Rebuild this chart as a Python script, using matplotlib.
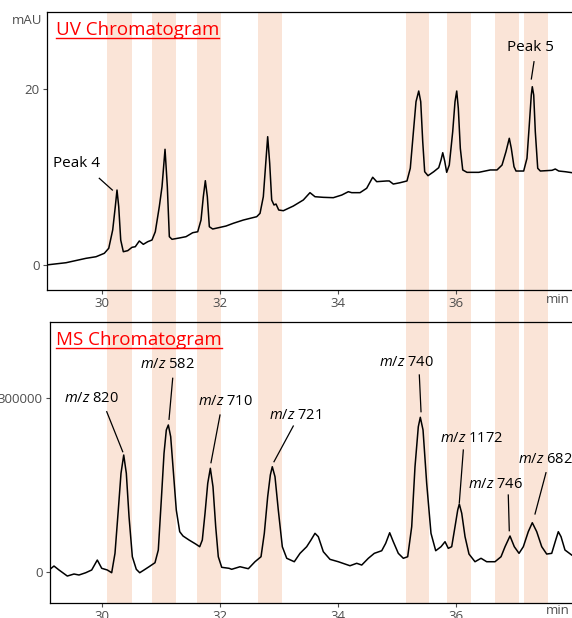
import numpy as np
import matplotlib
matplotlib.use("Agg")
import matplotlib.pyplot as plt
from matplotlib.lines import Line2D

plt.rcParams['font.family'] = ['Open Sans', 'DejaVu Sans']
plt.rcParams['mathtext.fontset'] = 'custom'
plt.rcParams['mathtext.rm'] = 'Open Sans'
plt.rcParams['mathtext.it'] = 'Open Sans:italic'

# UV trace (time in min, absorbance in mAU)
uv_t = [29.051, 29.39, 29.729, 29.898, 30.039, 30.114, 30.181, 30.225, 30.254, 30.283,
        30.317, 30.361, 30.436, 30.508, 30.564, 30.632, 30.70, 30.775, 30.847, 30.903,
        30.971, 31.017, 31.068, 31.107, 31.141, 31.186, 31.31, 31.424, 31.537, 31.622,
        31.678, 31.717, 31.751, 31.785, 31.819, 31.876, 32.102, 32.225, 32.395, 32.622,
        32.678, 32.734, 32.775, 32.808, 32.842, 32.876, 32.915, 32.949, 32.995, 33.073,
        33.242, 33.412, 33.525, 33.61, 33.751, 33.92, 34.063, 34.175, 34.232, 34.373,
        34.486, 34.588, 34.656, 34.825, 34.869, 34.937, 35.051, 35.169, 35.225, 35.283,
        35.322, 35.368, 35.402, 35.436, 35.469, 35.525, 35.622, 35.707, 35.746, 35.775,
        35.808, 35.842, 35.886, 35.944, 35.983, 36.012, 36.039, 36.073, 36.114, 36.186,
        36.385, 36.581, 36.695, 36.78, 36.847, 36.903, 36.937, 36.983, 37.017, 37.147,
        37.203, 37.242, 37.276, 37.293, 37.317, 37.344, 37.385, 37.429, 37.627, 37.683,
        37.741, 37.853, 37.966]
uv_mau = [0.0, 0.26, 0.76, 0.94, 1.33, 1.90, 3.98, 6.63, 8.52, 6.63,
          2.84, 1.51, 1.63, 2.01, 2.08, 2.73, 2.35, 2.65, 2.84, 3.78,
          6.63, 8.90, 13.15, 8.90, 3.22, 2.92, 3.07, 3.22, 3.67, 3.78,
          5.11, 7.76, 9.58, 7.76, 4.35, 4.09, 4.43, 4.74, 5.11, 5.49,
          5.87, 7.76, 11.56, 14.58, 11.56, 7.39, 6.82, 6.93, 6.25, 6.17,
          6.70, 7.39, 8.22, 7.76, 7.69, 7.65, 7.95, 8.33, 8.22, 8.22,
          8.72, 9.97, 9.47, 9.55, 9.55, 9.20, 9.35, 9.55, 10.99, 15.53,
          18.56, 19.77, 18.56, 14.01, 10.60, 10.15, 10.60, 11.06, 11.93, 12.76,
          11.82, 10.53, 11.36, 15.15, 18.56, 19.77, 17.81, 13.26, 10.80, 10.53,
          10.53, 10.80, 10.80, 11.36, 12.88, 14.40, 13.26, 11.17, 10.68, 10.68,
          12.13, 15.91, 19.32, 20.26, 19.32, 15.15, 10.99, 10.68, 10.76, 10.91,
          10.68, 10.60, 10.49]

# MS trace (time in min, intensity)
ms_t = [29.102, 29.186, 29.271, 29.412, 29.525, 29.61, 29.724, 29.825, 29.92, 29.995,
        30.09, 30.164, 30.22, 30.276, 30.322, 30.368, 30.412, 30.458, 30.514, 30.581,
        30.639, 30.712, 30.797, 30.898, 30.954, 31.005, 31.051, 31.09, 31.124, 31.164,
        31.203, 31.259, 31.317, 31.373, 31.475, 31.588, 31.656, 31.70, 31.746, 31.792,
        31.836, 31.881, 31.927, 31.971, 32.029, 32.153, 32.198, 32.339, 32.48, 32.593,
        32.695, 32.751, 32.808, 32.853, 32.886, 32.932, 32.988, 33.056, 33.131, 33.259,
        33.356, 33.469, 33.542, 33.61, 33.666, 33.751, 33.864, 34.005, 34.203, 34.317,
        34.402, 34.514, 34.615, 34.741, 34.808, 34.876, 34.937, 35.022, 35.107, 35.181,
        35.249, 35.305, 35.361, 35.395, 35.441, 35.503, 35.576, 35.656, 35.746, 35.814,
        35.869, 35.927, 35.983, 36.029, 36.056, 36.097, 36.153, 36.22, 36.322, 36.424,
        36.52, 36.661, 36.763, 36.831, 36.915, 36.988, 37.068, 37.141, 37.225, 37.293,
        37.368, 37.453, 37.537, 37.622, 37.69, 37.734, 37.78, 37.847, 37.961]
ms_int = [4000, 10800, 4000, -6400, -2900, -4600, -700, 4000, 21100, 6900,
          4000, -700, 32600, 107000, 170100, 201500, 170100, 95500, 26800, 5200,
          -700, 4000, 9600, 16500, 38300, 124200, 204400, 244500, 253100, 233000,
          181400, 107000, 69800, 62400, 55500, 48600, 44000, 55500, 101400, 152900,
          178700, 147100, 78300, 26800, 8600, 6900, 5200, 9600, 6200, 18200,
          26800, 67000, 129900, 167200, 181400, 164200, 107000, 44000, 24100, 18200,
          32600, 44000, 55500, 67000, 61200, 35400, 22300, 18200, 11300, 15500,
          12500, 24100, 32600, 37100, 49800, 68000, 52600, 32600, 24100, 26800,
          78300, 181400, 250100, 266300, 244500, 152900, 67000, 37100, 44000, 52600,
          41200, 44000, 78300, 107000, 117300, 101400, 61200, 31400, 18200, 24100,
          18200, 18200, 26800, 44000, 62400, 44000, 32600, 44000, 69800, 85200,
          69800, 44000, 31400, 32600, 55500, 69800, 61200, 38300, 29700]

# highlighted retention windows (min)
band_start = [30.08, 30.85, 31.61, 32.64, 35.15, 35.85, 36.66, 37.15]
band_end = [30.51, 31.25, 32.02, 33.05, 35.55, 36.25, 37.07, 37.56]

# peak labels: text position, leader line start/end
uv_labels = ['Peak 4', 'Peak 5']
uv_label_xy = [(29.568, 11.48), (37.26, 24.66)]
uv_line_from = [(29.954, 9.85), (37.322, 23.1)]
uv_line_to = [(30.175, 8.52), (37.277, 21.14)]

ms_mz = ['820', '582', '710', '721', '740', '1172', '746', '682']
ms_label_xy = [(29.822, 299400), (31.102, 357000), (32.085, 292600), (33.271, 270200),
               (35.158, 360400), (36.26, 230700), (36.661, 150500), (37.51, 193800)]
ms_line_from = [(30.08, 275900), (31.198, 333300), (32.0, 270200), (33.242, 251300),
                (35.378, 339000), (36.124, 210100), (36.886, 132800), (37.525, 171100)]
ms_line_to = [(30.351, 207200), (31.136, 262900), (31.847, 188300), (32.915, 190000),
              (35.407, 275900), (36.056, 119600), (36.903, 71500), (37.339, 100200)]

W, H = 572, 618
fig = plt.figure(figsize=(W / 100, H / 100), dpi=100)

band_col = '#FAE4D7'
tick_col = '#4D4D4D'

# background axes for the shaded windows running through both panels
bg = fig.add_axes([46.5 / W, 1 - 603 / H, 1 - 46.5 / W, (603 - 12) / H], zorder=0)
bg.set_xlim(29.059, 37.966)
bg.set_ylim(0, 1)
bg.axis('off')
for s, e in zip(band_start, band_end):
    bg.axvspan(s, e, color=band_col, lw=0)

ax1 = fig.add_axes([46.5 / W, 1 - 290 / H, 1 - 46.5 / W, (290 - 12) / H], zorder=1)
ax2 = fig.add_axes([49.5 / W, 1 - 603 / H, 1 - 49.5 / W, (603 - 322) / H], zorder=1)

ax1.plot(uv_t, uv_mau, color='black', lw=1.1)
ax2.plot(ms_t, ms_int, color='black', lw=1.1)

ax1.set_xlim(29.059, 37.966)
ax1.set_ylim(-2.84, 28.75)
ax2.set_xlim(29.110, 37.966)
ax2.set_ylim(-52700, 430000)

for ax in (ax1, ax2):
    ax.set_facecolor('none')
    ax.spines['right'].set_visible(False)
    for sp in ('left', 'bottom', 'top'):
        ax.spines[sp].set_linewidth(0.9)
        ax.spines[sp].set_color('black')
    ax.set_xticks([30, 32, 34, 36])
    ax.tick_params(colors=tick_col, labelcolor=tick_col, labelsize=9.5, length=3, width=0.8, pad=2)

ax1.set_yticks([0, 20])
ax2.set_yticks([0, 300000])

# unit labels
fig.text(27 / W, 1 - 20 / H, 'mAU', ha='center', va='center', color=tick_col, fontsize=9.5)
fig.text(558 / W, 1 - 299 / H, 'min', ha='center', va='center', color=tick_col, fontsize=9.5)
fig.text(558 / W, 1 - 610 / H, 'min', ha='center', va='center', color=tick_col, fontsize=9.5)

# panel titles, red and underlined
titles = []
for txt, yb in [('UV Chromatogram', 35), ('MS Chromatogram', 345)]:
    t = fig.text(56 / W, 1 - yb / H, txt, ha='left', va='baseline', color='red', fontsize=13.5)
    titles.append((t, yb))

for lab, xy, p0, p1 in zip(uv_labels, uv_label_xy, uv_line_from, uv_line_to):
    ax1.text(xy[0], xy[1], lab, ha='center', va='center', fontsize=11, color='black')
    ax1.plot([p0[0], p1[0]], [p0[1], p1[1]], color='black', lw=0.9)

for mz, xy, p0, p1 in zip(ms_mz, ms_label_xy, ms_line_from, ms_line_to):
    ax2.text(xy[0], xy[1], r'$m/z$ ' + mz, ha='center', va='center', fontsize=10.5,
             color='black', clip_on=False)
    ax2.plot([p0[0], p1[0]], [p0[1], p1[1]], color='black', lw=0.9)

fig.canvas.draw()
for t, yb in titles:
    bb = t.get_window_extent()
    yl = 1 - (yb + 2.5) / H
    fig.add_artist(Line2D([bb.x0 / W, bb.x1 / W], [yl, yl], color='red', lw=1.0))

fig.savefig('out.png', dpi=100)
